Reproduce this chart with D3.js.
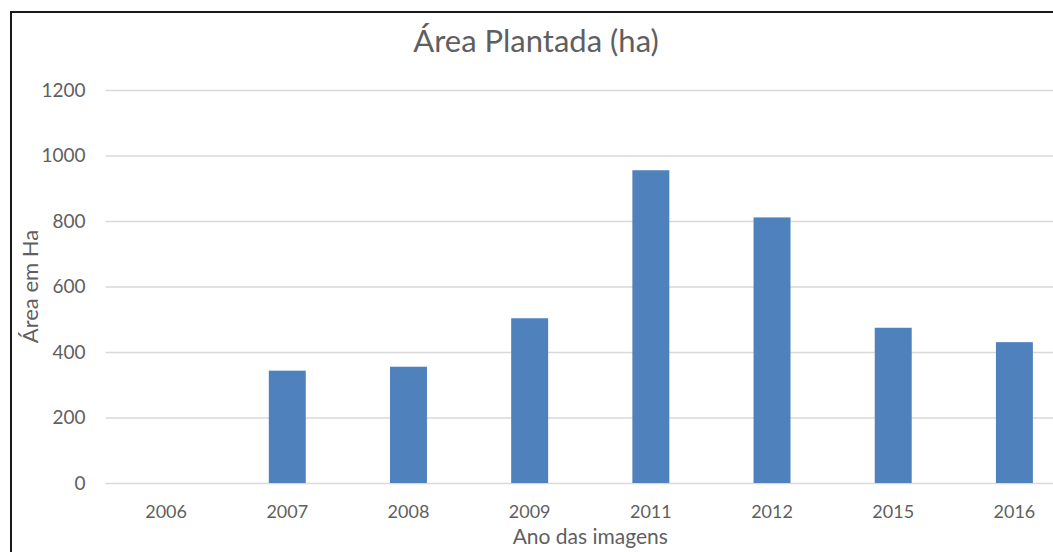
<!DOCTYPE html>
<html>
<head>
<meta charset="utf-8">
<script src="https://cdn.jsdelivr.net/npm/d3@7"></script>
<style>
  html, body { margin: 0; padding: 0; background: #fff; overflow: hidden; }
  text { font-family: Lato, "Open Sans", sans-serif; }
</style>
</head>
<body>
<div id="chart"></div>
<script>
/*
*    Área Plantada (ha) - barras
*/

// dados
const years = ["2006", "2007", "2008", "2009", "2011", "2012", "2015", "2016"];
const areas = [0, 343, 355, 503, 955, 811, 474, 430];
const yTicks = [0, 200, 400, 600, 800, 1000, 1200];

const chartTitle = "Área Plantada (ha)";
const xTitle = "Ano das imagens";
const yTitle = "Área em Ha";

barChart("#chart");

function barChart(container) {

	const width = 1053;
	const height = 552;

	// área do gráfico (a direita passa da imagem, como no original)
	const plot = { left: 105.5, right: 1075, top: 90, bottom: 483 };

	const svg = d3.select(container)
		.append("svg")
		.attr("width", width)
		.attr("height", height)
		.style("display", "block");

	svg.append("rect")
		.attr("width", width)
		.attr("height", height)
		.attr("fill", "#fff");

	// moldura preta (só topo e esquerda ficam visíveis)
	svg.append("rect")
		.attr("x", 11)
		.attr("y", 12)
		.attr("width", 1400)
		.attr("height", 800)
		.attr("fill", "none")
		.attr("stroke", "#1a1a1a")
		.attr("stroke-width", 2);

	// escalas
	const x = d3.scaleBand()
		.domain(years)
		.range([plot.left, plot.right])
		.paddingInner(0.695)
		.paddingOuter(0.3475);

	const y = d3.scaleLinear()
		.domain([0, 1200])
		.range([plot.bottom, plot.top]);

	// eixo Y + grade
	const yAxis = svg.append("g")
		.attr("transform", `translate(${plot.left}, 0)`)
		.call(d3.axisLeft(y)
			.tickValues(yTicks)
			.tickFormat(d3.format("d"))
			.tickSize(-(plot.right - plot.left))
			.tickPadding(20));

	yAxis.select(".domain").remove();
	yAxis.selectAll("line")
		.attr("stroke", "#d9d9d9")
		.attr("stroke-width", 1.3);
	yAxis.selectAll("text")
		.attr("fill", "#5f5f5f")
		.style("font-size", "19px");

	// barras
	svg.append("g")
		.selectAll("rect")
		.data(areas)
		.enter()
		.append("rect")
		.attr("x", (d, i) => x(years[i]))
		.attr("y", d => y(d))
		.attr("width", x.bandwidth())
		.attr("height", d => y(0) - y(d))
		.attr("fill", "#4f81bd");

	// eixo X
	const xAxis = svg.append("g")
		.attr("transform", `translate(0, ${plot.bottom})`)
		.call(d3.axisBottom(x).tickSize(0).tickPadding(22));

	xAxis.select(".domain").remove();
	xAxis.selectAll("text")
		.attr("fill", "#5f5f5f")
		.style("font-size", "18px");

	// títulos
	svg.append("text")
		.attr("x", 536)
		.attr("y", 52)
		.attr("text-anchor", "middle")
		.attr("fill", "#5f5f5f")
		.style("font-size", "31px")
		.text(chartTitle);

	svg.append("text")
		.attr("x", (plot.left + plot.right) / 2)
		.attr("y", 544)
		.attr("text-anchor", "middle")
		.attr("fill", "#5f5f5f")
		.style("font-size", "21px")
		.text(xTitle);

	svg.append("text")
		.attr("transform", "rotate(-90)")
		.attr("x", -(plot.top + plot.bottom) / 2)
		.attr("y", 38)
		.attr("text-anchor", "middle")
		.attr("fill", "#5f5f5f")
		.style("font-size", "22px")
		.text(yTitle);
}
</script>
</body>
</html>
